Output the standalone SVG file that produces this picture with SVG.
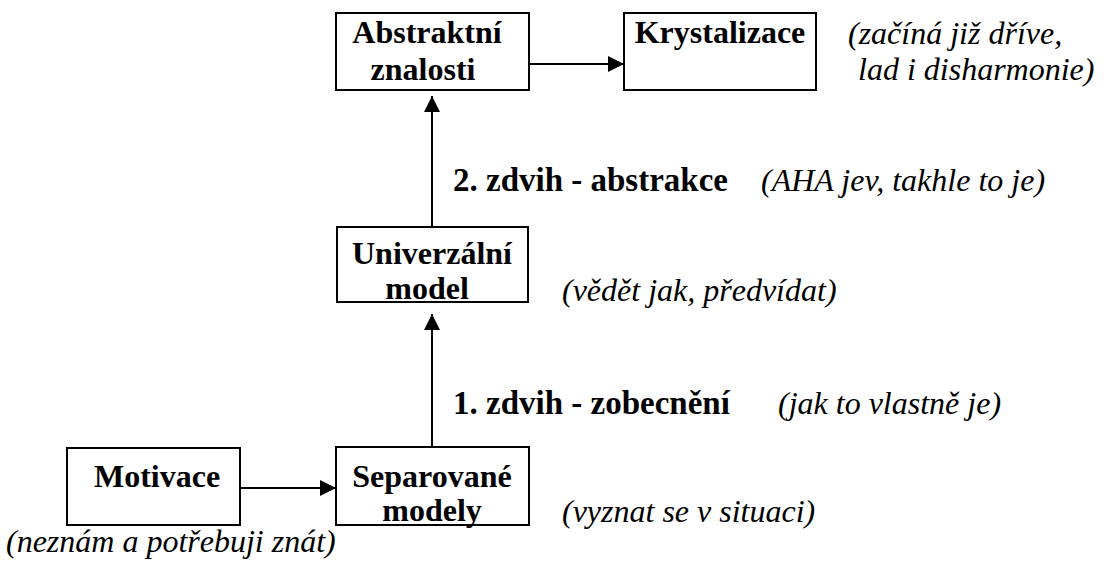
<svg xmlns="http://www.w3.org/2000/svg" width="1107" height="565" viewBox="0 0 1107 565">
<defs>
<style>
.box{fill:#fff;stroke:#000;stroke-width:2}
.b{font-family:"Liberation Serif","Times New Roman",serif;font-weight:bold;font-size:32px;fill:#000}
.bl{font-family:"Liberation Serif","Times New Roman",serif;font-weight:bold;font-size:33px;fill:#000}
.i{font-family:"Liberation Serif","Times New Roman",serif;font-style:italic;font-size:32px;fill:#000}
.c{text-anchor:middle}
.ln{stroke:#000;stroke-width:2;fill:none}
</style>
<marker id="ah" viewBox="0 0 16 16" refX="16" refY="8" markerWidth="16" markerHeight="16" markerUnits="userSpaceOnUse" orient="auto">
<path d="M0,0 L16,8 L0,16 Z" fill="#000"/>
</marker>
</defs>
<rect width="1107" height="565" fill="#fff"/>
<g id="connectors">
<line class="ln" x1="529" y1="64" x2="624" y2="64" marker-end="url(#ah)"/>
<line class="ln" x1="432" y1="227" x2="432" y2="96" marker-end="url(#ah)"/>
<line class="ln" x1="432" y1="447" x2="432" y2="314" marker-end="url(#ah)"/>
<line class="ln" x1="240" y1="488" x2="336" y2="488" marker-end="url(#ah)"/>
</g>
<g id="abstraktni">
<rect class="box" x="336" y="13" width="193" height="77"/>
<text class="b c" x="427" y="43">Abstraktní</text>
<text class="b c" x="423" y="80">znalosti</text>
</g>
<g id="krystalizace">
<rect class="box" x="624" y="13" width="192" height="77"/>
<text class="b c" x="720" y="43">Krystalizace</text>
</g>
<g id="univerzalni">
<rect class="box" x="337" y="227" width="191" height="75"/>
<text class="b c" x="432" y="264">Univerzální</text>
<text class="b c" x="427" y="299">model</text>
</g>
<g id="motivace">
<rect class="box" x="67" y="448" width="173" height="77"/>
<text class="b c" x="157" y="487">Motivace</text>
</g>
<g id="separovane">
<rect class="box" x="336" y="447" width="193" height="78"/>
<text class="b c" x="432" y="487">Separované</text>
<text class="b c" x="432" y="521">modely</text>
</g>
<g id="labels">
<text class="i" x="848" y="44">(začíná již dříve,</text>
<text class="i" x="858" y="80">lad i disharmonie)</text>
<text class="bl" x="453" y="191">2. zdvih - abstrakce</text>
<text class="i" x="761" y="191">(AHA jev, takhle to je)</text>
<text class="i" x="562" y="301">(vědět jak, předvídat)</text>
<text class="bl" x="453" y="414">1. zdvih - zobecnění</text>
<text class="i" x="778" y="414">(jak to vlastně je)</text>
<text class="i" x="562" y="522">(vyznat se v situaci)</text>
<text class="i" x="6" y="552">(neznám a potřebuji znát)</text>
</g>
</svg>
